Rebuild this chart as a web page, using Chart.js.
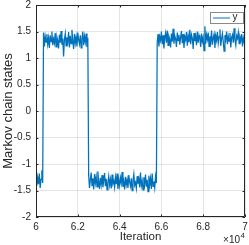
<!DOCTYPE html>
<html>
<head>
<meta charset="utf-8">
<script src="https://cdn.jsdelivr.net/npm/chart.js@4"></script>
<style>
  html, body { margin: 0; padding: 0; background: #fff; }
  #wrap { width: 249px; height: 245px; }
</style>
</head>
<body>
<div id="wrap"><canvas id="traceChart"></canvas></div>
<script>
// Markov chain trace, one sample every 40 iterations from 60000
const iterStart = 60000;
const iterStep = 40;
const states = [
  -1.32, -1.41, -1.25, -1.38, -1.18, -1.45, -1.29, -1.12, -1.36,
  1.48, 1.22, 1.41, 1.30, 1.45, 1.26, 1.38, 1.19, 1.43, 1.31,
  1.50, 1.24, 1.36, 1.28, 1.47, 1.21, 1.40, 1.33, 1.18, 1.44,
  1.29, 1.51, 1.25, 1.37, 1.03, 1.35, 1.46, 1.23, 1.39, 1.30,
  1.49, 1.20, 1.42, 1.27, 1.53, 1.32, 1.17, 1.45, 1.28, 1.40,
  1.22, 1.48, 1.34, 1.26, 1.43, 1.19, 1.37, 1.50, 1.24, 1.41,
  1.30, 1.46, 1.21, 1.38,
  -1.22, -1.45, -1.30, -1.16, -1.41, -1.27, -1.48, -1.19, -1.36, -1.24,
  -1.43, -1.14, -1.33, -1.47, -1.26, -1.39, -1.21, -1.44, -1.31, -1.17,
  -1.42, -1.28, -1.49, -1.35, -1.23, -1.40, -1.29, -1.46, -1.20, -1.37,
  -1.32, -1.44, -1.25, -1.38, -1.18, -1.47, -1.30, -1.41, -1.26, -1.36,
  -1.15, -1.43, -1.33, -1.48, -1.24, -1.39, -1.29, -1.45, -1.21, -1.34,
  -1.42, -1.27, -1.50, -1.31, -1.19, -1.40, -1.35, -1.46, -1.23, -1.37,
  -1.28, -1.44, -1.16, -1.41, -1.32, -1.49, -1.25, -1.38, -1.20, -1.43,
  -1.30, -1.52, -1.22, -1.39, -1.27, -1.47, -1.18, -1.42, -1.33, -1.45,
  -1.24, -1.36,
  1.30, 1.45, 1.22, 1.40, 1.33, 1.50, 1.26, 1.43, 1.18, 1.38,
  1.47, 1.29, 1.52, 1.24, 1.41, 1.35, 1.20, 1.46, 1.31, 1.55,
  1.27, 1.42, 1.36, 1.21, 1.48, 1.33, 1.44, 1.25, 1.39, 1.51,
  1.28, 1.45, 1.19, 1.40, 1.34, 1.49, 1.23, 1.42, 1.30, 1.53,
  1.26, 1.44, 1.37, 1.17, 1.47, 1.32, 1.41, 1.24, 1.50, 1.29,
  1.43, 1.36, 1.21, 1.46, 1.31, 1.39, 1.14, 1.60, 1.27, 1.44,
  1.35, 1.48, 1.22, 1.41, 1.30, 1.52, 1.25, 1.38, 1.45, 1.19,
  1.42, 1.33, 1.49, 1.28, 1.40, 1.54, 1.23, 1.37, 1.46, 1.31,
  1.13, 1.43, 1.35, 1.50, 1.26, 1.41, 1.32, 1.47, 1.20, 1.39,
  1.44, 1.29, 1.56, 1.34, 1.24, 1.42, 1.37, 1.48, 1.27, 1.40,
  1.33, 1.45, 1.22, 1.38, 1.30, 1.43
];
const xTicks = [60000, 62000, 64000, 66000, 68000, 70000];
const yTicks = [-2, -1.5, -1, -0.5, 0, 0.5, 1, 1.5, 2];
const seriesName = 'y';

const axisColor = '#262626';
const lineColor = '#0072BD';

Chart.defaults.font.family = "'Liberation Sans', Arial, sans-serif";
Chart.defaults.font.size = 10;
Chart.defaults.color = axisColor;

// MATLAB-style box with inward ticks, inset legend and x10^4 exponent
const matlabAxes = {
  id: 'matlabAxes',
  afterDraw(chart) {
    const { ctx, chartArea: a, scales } = chart;
    const tl = 2.5;
    ctx.save();
    ctx.strokeStyle = axisColor;
    ctx.lineWidth = 1;
    ctx.beginPath();
    ctx.rect(a.left + 0.5, a.top + 0.5, a.right - a.left - 1, a.bottom - a.top - 1);
    xTicks.forEach(v => {
      const px = Math.round(scales.x.getPixelForValue(v)) + 0.5;
      ctx.moveTo(px, a.bottom); ctx.lineTo(px, a.bottom - tl);
      ctx.moveTo(px, a.top); ctx.lineTo(px, a.top + tl);
    });
    yTicks.forEach(v => {
      const py = Math.round(scales.y.getPixelForValue(v)) + 0.5;
      ctx.moveTo(a.left, py); ctx.lineTo(a.left + tl, py);
      ctx.moveTo(a.right, py); ctx.lineTo(a.right - tl, py);
    });
    ctx.stroke();

    // legend
    const bx = a.right - 35, by = a.top + 7, bw = 33, bh = 11;
    ctx.fillStyle = '#fff';
    ctx.fillRect(bx, by, bw, bh);
    ctx.strokeStyle = 'rgba(38,38,38,0.55)';
    ctx.strokeRect(bx + 0.5, by + 0.5, bw, bh);
    ctx.strokeStyle = lineColor;
    ctx.beginPath();
    ctx.moveTo(bx + 3, by + 6); ctx.lineTo(bx + 20, by + 6);
    ctx.stroke();
    ctx.fillStyle = axisColor;
    ctx.font = "10px 'Liberation Sans', Arial, sans-serif";
    ctx.textBaseline = 'middle';
    ctx.textAlign = 'left';
    ctx.fillText(seriesName, bx + 22.5, by + 5.5);

    // exponent
    ctx.textAlign = 'right';
    ctx.textBaseline = 'alphabetic';
    ctx.font = "10px 'Liberation Sans', Arial, sans-serif";
    ctx.fillText('\u00d710', a.right - 5, 243);
    ctx.font = "8px 'Liberation Sans', Arial, sans-serif";
    ctx.textAlign = 'left';
    ctx.fillText('4', a.right - 4.5, 238);
    ctx.restore();
  }
};

new Chart(document.getElementById('traceChart'), {
  type: 'line',
  data: {
    datasets: [{
      label: seriesName,
      data: states.map((s, i) => ({ x: iterStart + i * iterStep, y: s })),
      borderColor: lineColor,
      borderWidth: 1.25,
      pointRadius: 0,
      tension: 0,
      fill: false
    }]
  },
  options: {
    responsive: true, maintainAspectRatio: false,
    animation: false,
    layout: { padding: { left: 0, right: 4, top: 5, bottom: 0 } },
    plugins: { legend: { display: false }, tooltip: { enabled: false } },
    scales: {
      x: {
        type: 'linear', min: 60000, max: 70000,
        afterBuildTicks: s => { s.ticks = xTicks.map(v => ({ value: v })); },
        afterFit: s => { s.height = 28; s.paddingLeft = 0; s.paddingRight = 0; },
        grid: { color: 'rgba(38,38,38,0.12)', drawTicks: false },
        border: { display: false },
        ticks: { padding: 4, maxRotation: 0, callback: v => String(v / 10000) },
        title: { display: true, text: 'Iteration', font: { size: 11.5 }, padding: { top: 0, bottom: 1 } }
      },
      y: {
        min: -2, max: 2,
        afterBuildTicks: s => { s.ticks = yTicks.map(v => ({ value: v })); },
        afterFit: s => { s.width = 36; s.paddingTop = 0; s.paddingBottom = 0; },
        grid: { color: 'rgba(38,38,38,0.12)', drawTicks: false },
        border: { display: false },
        ticks: { padding: 5, callback: v => String(v) },
        title: { display: true, text: 'Markov chain states', font: { size: 13 }, padding: { top: 1, bottom: 0 } }
      }
    }
  },
  plugins: [matlabAxes]
});
</script>
</body>
</html>
